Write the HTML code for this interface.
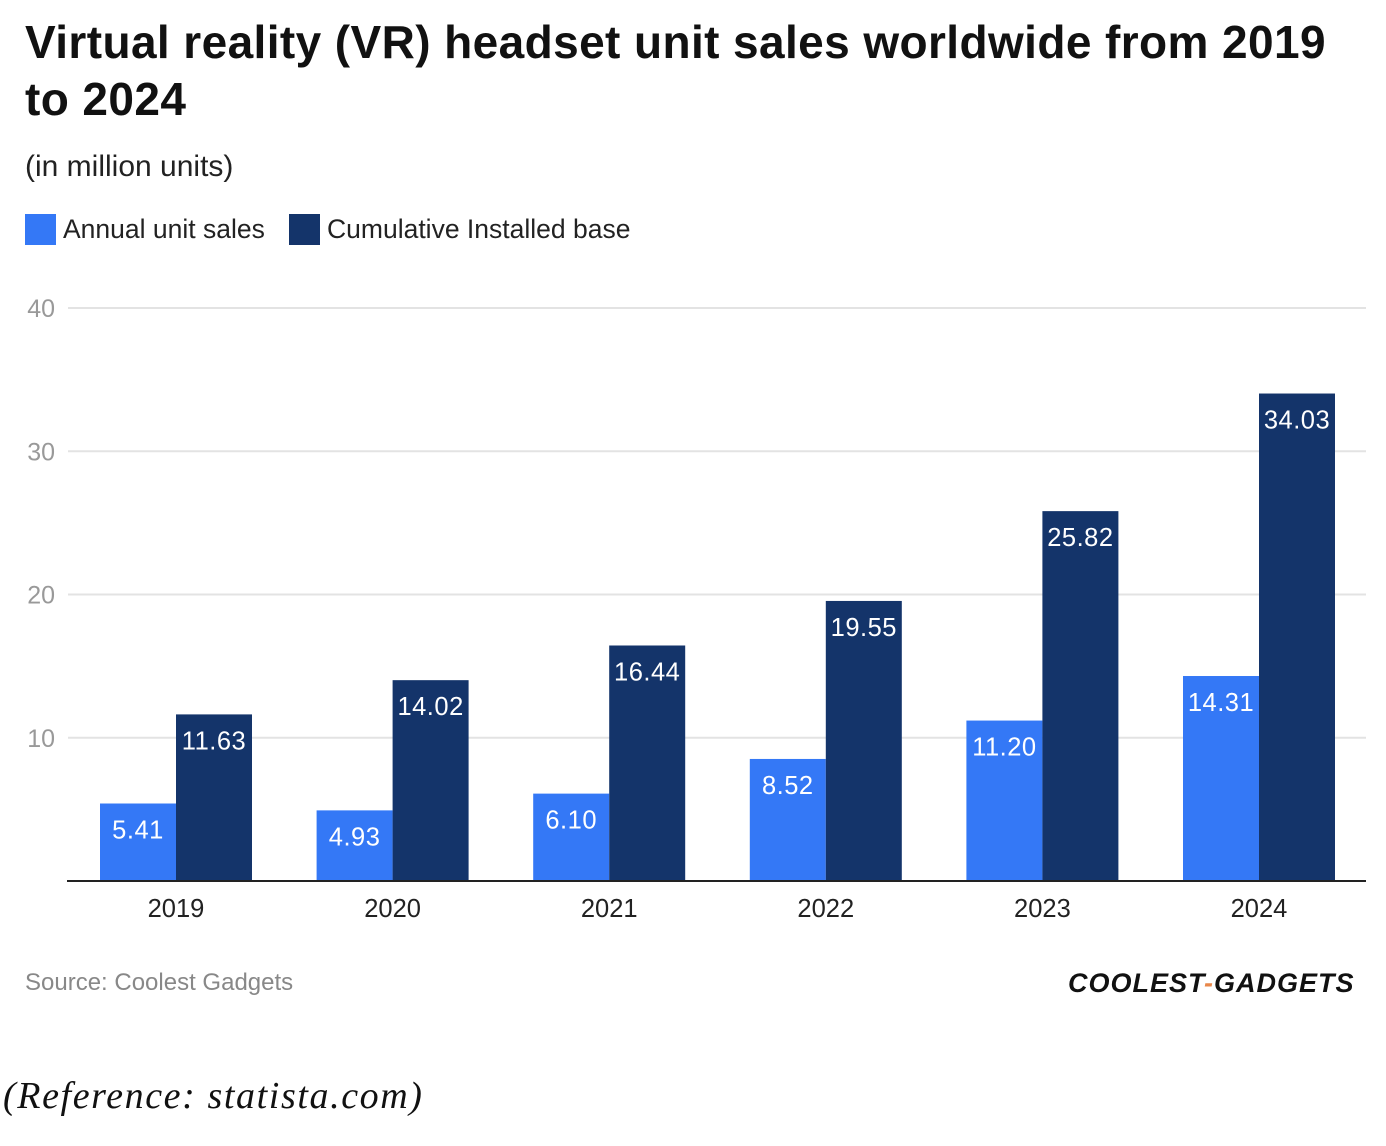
<!DOCTYPE html>
<html><head><meta charset="utf-8"><style>
body{margin:0;width:1386px;height:1146px;background:#fff;font-family:"Liberation Sans",sans-serif;position:relative;overflow:hidden}
.abs{position:absolute}
</style></head><body>
<div class="abs" style="left:25px;top:14px;width:1320px;font-size:46px;font-weight:bold;line-height:57px;color:#111;letter-spacing:0.4px">Virtual reality (VR) headset unit sales worldwide from 2019 to 2024</div>
<div class="abs" style="left:25px;top:150px;font-size:30px;color:#222">(in million units)</div>
<div class="abs" style="left:25px;top:214px;font-size:26.5px;color:#222;display:flex;align-items:center"><span style="display:inline-block;width:31px;height:31px;background:#3478f6;margin-right:7px"></span>Annual unit sales</div>
<div class="abs" style="left:289px;top:214px;font-size:26.5px;color:#222;display:flex;align-items:center"><span style="display:inline-block;width:31px;height:31px;background:#14346a;margin-right:7px"></span>Cumulative Installed base</div>
<svg class="abs" style="left:0;top:0" width="1386" height="960" id="chart"></svg>
<div class="abs" style="left:25px;top:969px;font-size:24px;color:#888">Source: Coolest Gadgets</div>
<div class="abs" style="left:1068px;top:968px;font-size:27px;font-weight:bold;font-style:italic;color:#111;letter-spacing:1px">COOLEST<span style="color:#e8874a">-</span>GADGETS</div>
<div class="abs" style="left:3px;top:1074px;font-family:'Liberation Serif',serif;font-style:italic;font-size:38px;letter-spacing:1.6px;color:#111">(Reference: statista.com)</div>
<script>
const years=["2019","2020","2021","2022","2023","2024"];
const annual=[5.41,4.93,6.10,8.52,11.20,14.31];
const cumulative=[11.63,14.02,16.44,19.55,25.82,34.03];
const ticks=[10,20,30,40];
const svg=document.getElementById('chart');
const NS='http://www.w3.org/2000/svg';
const y=v=>881-v*14.325;
const cx=i=>176+i*216.6;
function mk(t,a){const e=document.createElementNS(NS,t);for(const k in a)e.setAttribute(k,a[k]);svg.appendChild(e);return e;}
ticks.forEach(t=>{
  const l=mk('line',{x1:68,x2:1366,y1:y(t),y2:y(t),stroke:'#e3e3e3','stroke-width':2});
  
  
  const tx=mk('text',{x:55,y:y(t)+9,'text-anchor':'end','font-size':25,fill:'#999','font-family':'Liberation Sans, sans-serif'});
  tx.textContent=t;
  
  
});
years.forEach((yr,i)=>{
  [[annual[i],cx(i)-76,'#3478f6'],[cumulative[i],cx(i),'#14346a']].forEach(([v,x,c])=>{
    const r=mk('rect',{x:x,y:y(v),width:76,height:881-y(v),fill:c});
    
    
    const t=mk('text',{x:x+38,y:y(v)+35,'text-anchor':'middle','font-size':25.5,fill:'#fff','font-family':'Liberation Sans, sans-serif','letter-spacing':0.5});
    t.textContent=v.toFixed(2);
    
    
  });
  const t=mk('text',{x:cx(i),y:917,'text-anchor':'middle','font-size':25.5,fill:'#222','font-family':'Liberation Sans, sans-serif'});
  t.textContent=yr;
  
  
});
const ax=mk('line',{x1:67,x2:1366,y1:881,y2:881,stroke:'#222','stroke-width':2});


</script>
</body></html>
